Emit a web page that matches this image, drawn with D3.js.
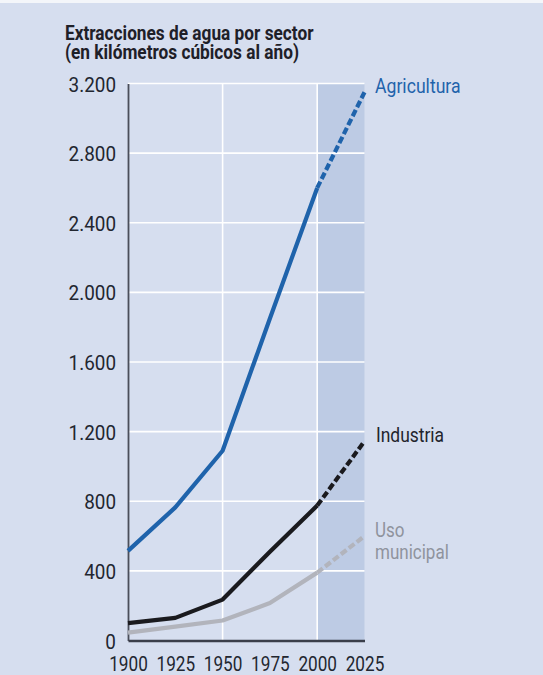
<!DOCTYPE html>
<html>
<head>
<meta charset="utf-8">
<script src="https://cdn.jsdelivr.net/npm/d3@7"></script>
<style>
  html, body { margin: 0; padding: 0; background: #d6deef; }
  svg { display: block; }
  text { font-family: Roboto, "Liberation Sans", sans-serif; }
</style>
</head>
<body>
<svg id="chart" width="543" height="675"></svg>
<script>
// Water withdrawals by sector, km³ per year (2025 = projection)
const years = [1900, 1925, 1950, 1975, 2000, 2025];
const agricultura = [515, 765, 1090, 1850, 2600, 3150];
const industria = [100, 130, 235, 510, 775, 1145];
const municipal = [45, 80, 115, 215, 390, 600];
const yTicks = [0, 400, 800, 1200, 1600, 2000, 2400, 2800, 3200];
const seriesNames = ["Agricultura", "Industria", "Uso", "municipal"];
const seriesColors = ["#1f63ab", "#1a1a1e", "#b2b4bc"];
const projectionStart = 2000;

const svg = d3.select("#chart");

// thin white strip across the top
svg.append("rect").attr("x", 0).attr("y", 0).attr("width", 543).attr("height", 3).attr("fill", "#f4f6fa");

const x = d3.scaleLinear().domain([1900, 2025]).range([128, 364.5]);
const y = d3.scaleLinear().domain([0, 3200]).range([640.5, 83.5]);

// condensed-looking text: regular face squeezed horizontally
function label(parent, tx, ty, str, size, sx, fill, weight) {
  return parent.append("text")
    .attr("transform", `translate(${tx},${ty}) scale(${sx},1)`)
    .attr("font-size", size).attr("font-weight", weight || 400)
    .attr("fill", fill).text(str);
}

// projection band
svg.append("rect")
  .attr("x", x(projectionStart)).attr("y", y(3200))
  .attr("width", x(2025) - x(projectionStart)).attr("height", y(0) - y(3200))
  .attr("fill", "#bdcbe4");

// gridlines
svg.append("g").selectAll("line").data(yTicks.filter(d => d > 0)).join("line")
  .attr("x1", x(1900)).attr("x2", x(2025))
  .attr("y1", d => y(d)).attr("y2", d => y(d))
  .attr("stroke", "#ffffff").attr("stroke-width", 1.6);
svg.append("g").selectAll("line").data([1950, 2000]).join("line")
  .attr("x1", d => x(d)).attr("x2", d => x(d))
  .attr("y1", y(0)).attr("y2", y(3200))
  .attr("stroke", "#ffffff").attr("stroke-width", 1.6);

// axes
const yAxis = d3.axisLeft(y).tickValues(yTicks).tickSize(0)
  .tickFormat(d => d3.format(",")(d).replace(/,/g, "."));
const gy = svg.append("g").attr("transform", `translate(${x(1900)},0)`).call(yAxis);
gy.select(".domain").attr("stroke", "#4a4e5a").attr("stroke-width", 1.8);
gy.selectAll(".tick text")
  .attr("x", 0).attr("dy", "0.36em")
  .attr("transform", "translate(-12,0) scale(0.9,1)")
  .attr("font-size", 21).attr("fill", "#222630");

const xAxis = d3.axisBottom(x).tickValues(years).tickSize(0).tickFormat(d3.format("d"));
const gx = svg.append("g").attr("transform", `translate(0,${y(0)})`).call(xAxis);
gx.select(".domain").attr("stroke", "#3a3e4a").attr("stroke-width", 2.4);
gx.selectAll(".tick text")
  .attr("y", 0).attr("dy", 0)
  .attr("transform", "translate(0,30.5) scale(0.86,1)")
  .attr("font-size", 20).attr("fill", "#222630");

// lines: solid up to 2000, dashed for the projection
const line = d3.line().x(d => x(d[0])).y(d => y(d[1]));
[agricultura, industria, municipal].forEach((vals, i) => {
  const pts = years.map((yr, j) => [yr, vals[j]]);
  const hist = pts.filter(p => p[0] <= projectionStart);
  const proj = pts.filter(p => p[0] >= projectionStart);
  svg.append("path").datum(hist).attr("d", line)
    .attr("fill", "none").attr("stroke", seriesColors[i]).attr("stroke-width", 4.2)
    .attr("stroke-linejoin", "round");
  svg.append("path").datum(proj).attr("d", line)
    .attr("fill", "none").attr("stroke", seriesColors[i]).attr("stroke-width", 4.2)
    .attr("stroke-dasharray", "7,3");
});

// series labels
const lbl = svg.append("g");
label(lbl, 375, 93, seriesNames[0], 21, 0.84, seriesColors[0]);
label(lbl, 376, 442, seriesNames[1], 21, 0.83, "#22242c");
label(lbl, 375, 537, seriesNames[2], 20.5, 0.83, "#8f939d");
label(lbl, 375, 559, seriesNames[3], 20.5, 0.83, "#8f939d");

// title
label(svg, 65, 39.5, "Extracciones de agua por sector", 19.5, 0.885, "#1e2028", 700);
label(svg, 65, 59, "(en kilómetros cúbicos al año)", 19.5, 0.885, "#1e2028", 700);
</script>
</body>
</html>
